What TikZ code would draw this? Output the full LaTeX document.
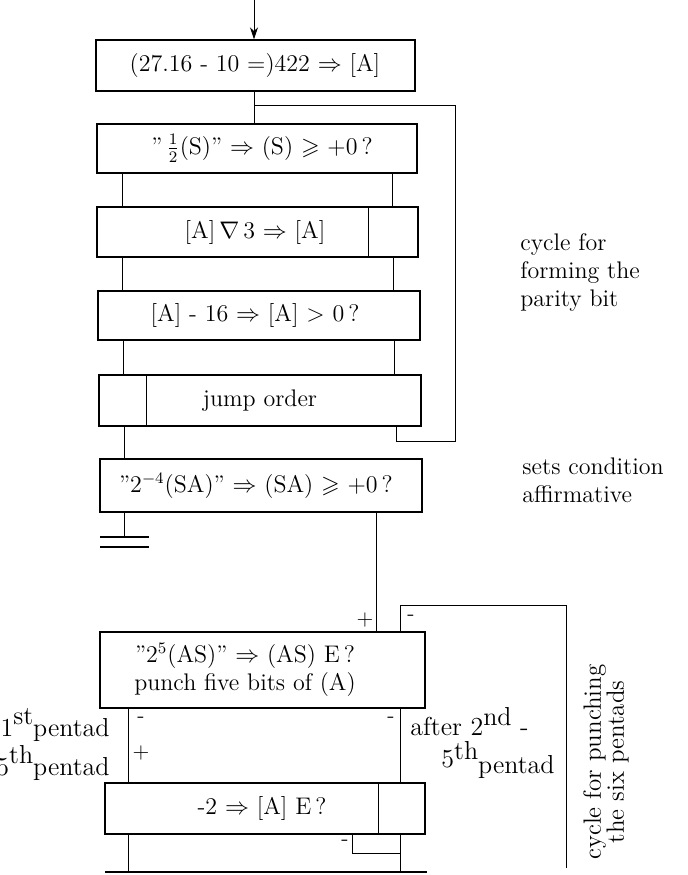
\documentclass[tikz,border=0pt]{standalone}
\usepackage{amsmath,amssymb}
\usetikzlibrary{arrows.meta}
\begin{document}
\begin{tikzpicture}[x=0.5pt,y=-0.5pt,
  box/.style={draw, line width=0.7pt, inner sep=0pt},
  lbl/.style={font=\fontsize{12}{14}\selectfont, inner sep=0pt, align=center},
  note/.style={font=\fontsize{12}{14}\selectfont, inner sep=0pt, align=left},
  pent/.style={font=\fontsize{13}{15}\selectfont, inner sep=0pt},
  sml/.style={font=\fontsize{11}{13}\selectfont, inner sep=0pt},
  wire/.style={line width=0.5pt},
  cyc/.style={line width=0.4pt}]
\useasboundingbox (0,0) rectangle (688,875);

% boxes
\node[box, minimum width=159.5pt, minimum height=25.5pt] (b1) at (255.5,65.5) {};
\node[box, minimum width=160pt, minimum height=24.5pt] (b2) at (257,148.5) {};
\node[box, minimum width=160.5pt, minimum height=25pt] (b3) at (257.5,232) {};
\node[box, minimum width=161pt, minimum height=24.5pt] (b4) at (259,315.5) {};
\node[box, minimum width=161pt, minimum height=25.5pt] (b5) at (260,400.5) {};
\node[box, minimum width=161pt, minimum height=26.5pt] (b6) at (261,485.5) {};
\node[box, minimum width=162.5pt, minimum height=38pt] (b7) at (262.5,670) {};
\node[box, minimum width=160pt, minimum height=25.5pt] (b8) at (265,808.5) {};

% dividers
\draw[wire] (b3.north -| 368,0) -- (b3.south -| 368,0);
\draw[wire] (b5.north -| 146,0) -- (b5.south -| 146,0);
\draw[wire] (b8.north -| 378,0) -- (b8.south -| 378,0);

% box texts
\node[lbl] (t1) at (255,65.5) {(27.16 - 10 =)422 $\Rightarrow$ [A]};
\node[lbl] (t2) at (262,148.5) {"\kern2pt$\frac{1}{2}$(S)" $\Rightarrow$ (S) $\geqslant$ +0\,?};
\node[lbl] (t3) at (255,232) {[A]$\,\nabla\,$3 $\Rightarrow$ [A]};
\node[lbl] (t4) at (255,315.5) {[A] - 16 $\Rightarrow$ [A] $>$ 0\,?};
\node[lbl] (t5) at (260,400.5) {jump order};
\node[lbl] (t6) at (256,485.5) {"2$^{-4}$(SA)" $\Rightarrow$ (SA) $\geqslant$ +0\,?};
\node[lbl] (t7) at (245,670) {"2$^{5}$(AS)" $\Rightarrow$ (AS) E\,?\\punch five bits of (A)};
\node[lbl] (t8) at (262,808.5) {-2 $\Rightarrow$ [A] E\,?};

% entry arrow
\coordinate (in) at (254,0);
\draw[wire,-{Stealth[length=6pt,width=4pt]}] (in) -- (in |- b1.north);

% main connectors
\draw[wire] (b1.south -| 254,0) -- (b2.north -| 254,0);
\draw[wire] (b2.south -| 122,0) -- (b3.north -| 122,0);
\draw[wire] (b2.south -| 392,0) -- (b3.north -| 392,0);
\draw[wire] (b3.south -| 122,0) -- (b4.north -| 122,0);
\draw[wire] (b3.south -| 393,0) -- (b4.north -| 393,0);
\draw[wire] (b4.south -| 123,0) -- (b5.north -| 123,0);
\draw[wire] (b4.south -| 394,0) -- (b5.north -| 394,0);
\draw[wire] (b5.south -| 124,0) -- (b6.north -| 124,0);

% parity cycle
\coordinate (pc1) at (254,105);
\coordinate (pc2) at (455,105);
\coordinate (pc3) at (455,441);
\coordinate (pc4) at (396,441);
\draw[cyc] (b5.south -| pc4) -- (pc4) -- (pc3) -- (pc2) -- (pc1);

% ground below b6
\coordinate (g) at (124,537);
\draw[wire] (b6.south -| g) -- (g);
\draw[line width=0.8pt] (100,537) -- (149,537);
\draw[line width=0.8pt] (100,547) -- (149,547);

% b6 to b7
\draw[wire] (b6.south -| 376,0) -- (b7.north -| 376,0);
\node[sml] (plus1) at (365,620) {+};

% pentad cycle
\coordinate (pp1) at (400,605);
\coordinate (pp2) at (566,605);
\coordinate (pp3) at (566,868);
\draw[cyc] (b7.north -| pp1) -- (pp1) -- (pp2) -- (pp3);
\node[sml] (minus1) at (411,618) {-};

% b7 to b8
\draw[wire] (b7.south -| 128,0) -- (b8.north -| 128,0);
\draw[wire] (b7.south -| 400,0) -- (b8.north -| 400,0);
\node[sml] (minus2) at (141,720) {-};
\node[sml] (minus3) at (391,720) {-};
\node[sml] (plus2) at (141,753) {+};

% pentad labels
\node[pent, anchor=east] (lp1) at (110,725) {1\raisebox{6pt}{st}pentad};
\node[pent, anchor=east] (lp5) at (110,763) {5\raisebox{6pt}{th}pentad};
\node[pent, anchor=west] (rp1) at (410,722) {after 2\raisebox{5pt}{nd} -};
\node[pent, anchor=west] (rp5) at (441,760) {5\raisebox{4pt}{th}\raisebox{-3pt}{pentad}};

% below b8
\coordinate (bl) at (128,872);
\coordinate (br) at (400,872);
\draw[wire] (b8.south -| bl) -- (bl);
\draw[wire] (b8.south -| br) -- (br);
\coordinate (k1) at (352,853);
\coordinate (k2) at (400,853);
\draw[wire] (b8.south -| k1) -- (k1) -- (k2);
\node[sml] (minus4) at (345,843) {-};
\draw[line width=0.8pt] (105,872) -- (427,872);

% annotations
\node[note, anchor=north west] (n1) at (520,233) {cycle for\\forming the\\parity bit};
\node[note, anchor=north west] (n2) at (522,457) {sets condition\\affirmative};
\node[lbl, rotate=90, font=\fontsize{12.5}{11.5}\selectfont] (n3) at (606,762) {cycle for punching\\the six pentads};
\end{tikzpicture}
\end{document}
